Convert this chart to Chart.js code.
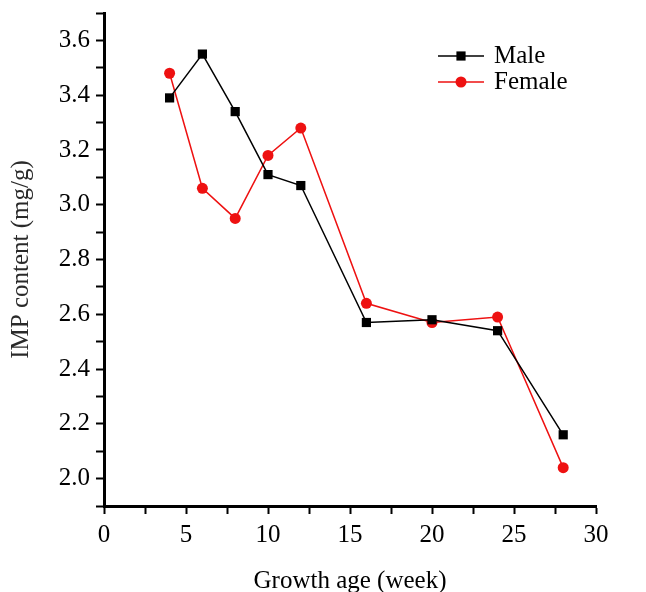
<!DOCTYPE html>
<html>
<head>
<meta charset="utf-8">
<script src="https://cdn.jsdelivr.net/npm/chart.js@4"></script>
<style>
  html, body { margin: 0; padding: 0; background: #fff; }
  #wrap { width: 646px; height: 592px; }
</style>
</head>
<body>
<div id="wrap"><canvas id="impChart" width="646" height="592"></canvas></div>
<script>
// Données
const weeks = [4, 6, 8, 10, 12, 16, 20, 24, 28];
const maleValues = [3.39, 3.55, 3.34, 3.11, 3.07, 2.57, 2.58, 2.54, 2.16];
const femaleValues = [3.48, 3.06, 2.95, 3.18, 3.28, 2.64, 2.57, 2.59, 2.04];
const seriesNames = ['Male', 'Female'];
const xTitle = 'Growth age (week)';
const yTitle = 'IMP content (mg/g)';

const FONT = "'Liberation Serif', 'Times New Roman', serif";

// Légende dessinée à la main (ligne + marqueur, comme dans l'original)
const lineLegend = {
    id: 'lineLegend',
    afterDraw(chart) {
        const ctx = chart.ctx;
        const x0 = 438, x1 = 484, textX = 494;
        const rows = [56, 82];
        chart.data.datasets.forEach((ds, i) => {
            const y = rows[i];
            ctx.save();
            ctx.strokeStyle = ds.borderColor;
            ctx.lineWidth = ds.borderWidth;
            ctx.beginPath();
            ctx.moveTo(x0, y);
            ctx.lineTo(x1, y);
            ctx.stroke();
            ctx.fillStyle = ds.backgroundColor;
            ctx.strokeStyle = ds.backgroundColor;
            Chart.helpers.drawPoint(ctx, {
                pointStyle: ds.pointStyle,
                radius: ds.pointRadius,
                borderWidth: 0
            }, (x0 + x1) / 2, y);
            ctx.fillStyle = '#000';
            ctx.font = '25px ' + FONT;
            ctx.textBaseline = 'middle';
            ctx.fillText(ds.label, textX, y);
            ctx.restore();
        });
    }
};

const ctx = document.getElementById('impChart').getContext('2d');
new Chart(ctx, {
    type: 'line',
    data: {
        datasets: [{
            label: seriesNames[0],
            data: weeks.map((w, i) => ({ x: w, y: maleValues[i] })),
            borderColor: '#000000',
            backgroundColor: '#000000',
            borderWidth: 1.5,
            pointStyle: 'rect',
            pointRadius: 6.5,
            pointBorderWidth: 0,
            tension: 0
        }, {
            label: seriesNames[1],
            data: weeks.map((w, i) => ({ x: w, y: femaleValues[i] })),
            borderColor: '#ee1111',
            backgroundColor: '#ee1111',
            borderWidth: 1.5,
            pointStyle: 'circle',
            pointRadius: 5.5,
            pointBorderWidth: 0,
            tension: 0
        }]
    },
    options: {
        responsive: false,
        animation: false,
        layout: { padding: { top: 13, right: 50, left: 0, bottom: 0 } },
        plugins: {
            legend: { display: false },
            tooltip: { enabled: false }
        },
        scales: {
            x: {
                type: 'linear',
                min: 0,
                max: 30,
                afterFit(scale) {
                    scale.height = 86;
                    scale.paddingLeft = 0;
                    scale.paddingRight = 0;
                },
                border: { display: true, color: '#000', width: 3 },
                grid: { drawOnChartArea: false, drawTicks: true, tickLength: 8, tickWidth: 2, color: '#000' },
                ticks: {
                    stepSize: 2.5,
                    autoSkip: false,
                    maxRotation: 0,
                    padding: 9,
                    color: '#000',
                    font: { family: FONT, size: 25, lineHeight: 1 },
                    callback: v => (v % 5 === 0 ? String(v) : '')
                },
                title: {
                    display: true,
                    text: xTitle,
                    color: '#000',
                    font: { family: FONT, size: 25, lineHeight: 1 },
                    padding: { top: 10, bottom: -2 }
                }
            },
            y: {
                type: 'linear',
                min: 1.9,
                max: 3.7,
                afterFit(scale) {
                    scale.width = 104;
                    scale.paddingTop = 0;
                    scale.paddingBottom = 0;
                },
                border: { display: true, color: '#000', width: 3 },
                grid: { drawOnChartArea: false, drawTicks: true, tickLength: 8, tickWidth: 2, color: '#000' },
                ticks: {
                    stepSize: 0.1,
                    autoSkip: false,
                    padding: 6,
                    color: '#000',
                    font: { family: FONT, size: 25 },
                    callback: v => (Math.round(v * 10) % 2 === 0 ? v.toFixed(1) : '')
                },
                title: {
                    display: true,
                    text: yTitle,
                    color: '#2a2a2a',
                    font: { family: FONT, size: 25, lineHeight: 1 },
                    padding: { top: 9, bottom: 6 }
                }
            }
        }
    },
    plugins: [lineLegend]
});
</script>
</body>
</html>
